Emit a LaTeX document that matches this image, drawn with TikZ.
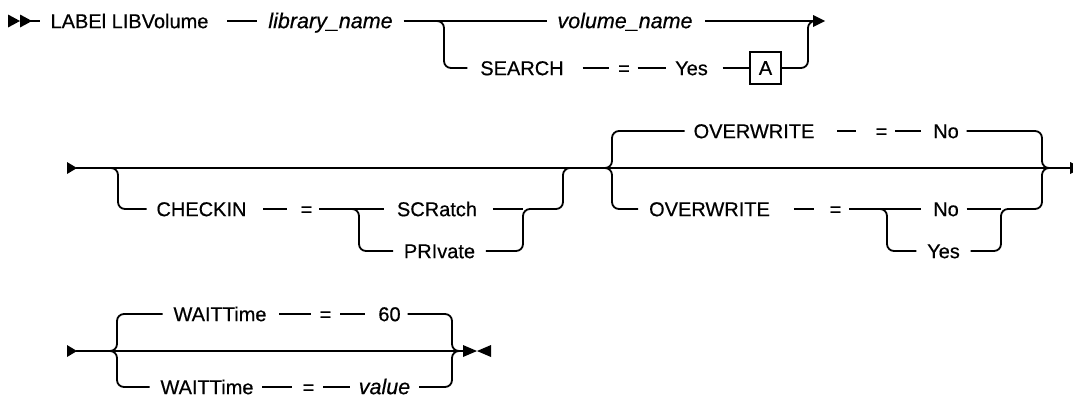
\documentclass[tikz,border=0pt]{standalone}
\usepackage{fontspec}
\setmainfont{Liberation Sans}[FakeBold=0.5]
\begin{document}
\begin{tikzpicture}[x=1pt,y=-1pt, line width=1.8pt,
  txt/.style={inner sep=0pt, text height=14.3pt, text depth=0pt, font=\fontsize{20}{24}\selectfont},
  var/.style={inner sep=0pt, text height=14.3pt, text depth=0pt, font=\fontsize{21.5}{25}\selectfont\itshape},
  rc/.style={rounded corners=7pt},
  boxed/.style={draw, line width=1.4pt, minimum width=31pt, minimum height=32pt, inner sep=0pt, font=\fontsize{20}{24}\selectfont}]
\clip (0,0) rectangle (1073,397);
\fill[white] (0,0) rectangle (1073,397);

% ---------- row 1 ----------
\fill (8,14.5) -- (20,21) -- (8,27.5) -- cycle;
\fill (20,14.5) -- (32,21) -- (20,27.5) -- cycle;
\coordinate (s1) at (20,21);
\node[txt] (lab) at (129.5,21) {LABEl LIBVolume};
\node[var] (lib) at (330.5,21) {library\_name};
\node[var] (vol) at (625,21) {volume\_name};
\node[txt] (search) at (522,68) {SEARCH};
\node[txt] (eqa) at (624,68) {=};
\node[txt] (yesa) at (691.5,68) {Yes};
\node[boxed] (boxa) at (765.5,68) {A};
\coordinate (j1) at (437,21);
\coordinate (m1) at (808,21);
\coordinate (e1) at (814,21);
\fill (813,15) -- (825,21) -- (813,27) -- cycle;

\draw (s1) -- ([xshift=-10]lab.west);
\draw ([xshift=18]lab.east) -- ([xshift=-10]lib.west);
\draw ([xshift=10]lib.east) -- ([xshift=-10]vol.west);
\draw ([xshift=12]vol.east) -- (e1);
\draw[rc] (j1) -- ++(7,0) |- ([xshift=-12]search.west);
\draw ([xshift=18]search.east) -- ([xshift=-8]eqa.west);
\draw ([xshift=7]eqa.east) -- ([xshift=-8]yesa.west);
\draw ([xshift=14]yesa.east) -- (boxa.west);
\draw[rc] (boxa.east) -| (m1) -- (e1);

% ---------- row 2 ----------
\fill (67,162) -- (77,168) -- (67,174) -- cycle;
\coordinate (s2) at (76,168);
\coordinate (j2) at (111,168);
\node[txt] (chk) at (201.5,209) {CHECKIN};
\node[txt] (eqb) at (306.5,209) {=};
\coordinate (j3) at (352,209);
\node[txt] (scr) at (437,209) {SCRatch};
\node[txt] (pri) at (439.5,251) {PRIvate};
\coordinate (m2) at (523,209);
\coordinate (m3) at (563,168);
\coordinate (jo) at (600,168);
\node[txt] (owa) at (754,131) {OVERWRITE};
\node[txt] (eqc) at (881.5,131) {=};
\node[txt] (noa) at (946,131) {No};
\node[txt] (owb) at (709.5,209) {OVERWRITE};
\node[txt] (eqd) at (835.5,209) {=};
\coordinate (j4) at (880,209);
\node[txt] (nob) at (946,209) {No};
\node[txt] (yesb) at (943.5,251) {Yes};
\coordinate (m4) at (1001,209);
\coordinate (m5) at (1042,168);
\coordinate (e2) at (1070,168);
\fill (1070,162) -- (1082,168) -- (1070,174) -- cycle;

\draw (s2) -- (e2);
\draw[rc] (j2) -- ++(7,0) |- ([xshift=-9]chk.west);
\draw ([xshift=16]chk.east) -- ([xshift=-13]eqb.west);
\draw ([xshift=6]eqb.east) -- ([xshift=-12]scr.west);
\draw[rc] (j3) -- ++(7,0) |- ([xshift=-10]pri.west);
\draw ([xshift=15]scr.east) -- (m2);
\draw[rc] ([xshift=10]pri.east) -| (m2) -| (m3) -- ++(8,0);

\draw[rc] (jo) -- ++(12,0) |- ([xshift=-8]owa.west);
\draw[rc] (jo) -- ++(12,0) |- ([xshift=-10]owb.west);
\draw ([xshift=22]owa.east) -- ([xshift=-19]eqc.west);
\draw ([xshift=7]eqc.east) -- ([xshift=-11]noa.west);
\draw[rc] ([xshift=7]noa.east) -| (m5) -- ++(10,0);
\draw ([xshift=23]owb.east) -- ([xshift=-15]eqd.west);
\draw ([xshift=7]eqd.east) -- (j4);
\draw (j4) -- ([xshift=-11]nob.west);
\draw[rc] (j4) -- ++(7,0) |- ([xshift=-10]yesb.west);
\draw ([xshift=7]nob.east) -- (m4);
\draw[rc] ([xshift=10]yesb.east) -| (m4) -| (m5) -- ++(10,0);

% ---------- row 3 ----------
\fill (67,345) -- (77,351) -- (67,357) -- cycle;
\coordinate (s3) at (76,351);
\coordinate (jw) at (105,351);
\node[txt] (wta) at (220,314) {WAITTime};
\node[txt] (eqe) at (325.5,314) {=};
\node[txt] (sixty) at (389.5,314) {60};
\node[txt] (wtb) at (207,387) {WAITTime};
\node[txt] (eqf) at (308.5,387) {=};
\node[var] (val) at (384.5,387) {value};
\coordinate (mw) at (452,351);
\coordinate (e3) at (463,351);
\fill (463,345) -- (477,351) -- (463,357) -- cycle;
\fill (491,345) -- (477,351) -- (491,357) -- cycle;

\draw (s3) -- (e3);
\draw[rc] (jw) -- ++(12,0) |- ([xshift=-10]wta.west);
\draw ([xshift=12]wta.east) -- ([xshift=-8]eqe.west);
\draw ([xshift=8]eqe.east) -- ([xshift=-12]sixty.west);
\draw[rc] ([xshift=6]sixty.east) -| (mw) -- (e3);
\draw[rc] (jw) -- ++(12,0) |- ([xshift=-10]wtb.west);
\draw ([xshift=8]wtb.east) -- ([xshift=-10]eqf.west);
\draw ([xshift=8]eqf.east) -- ([xshift=-8]val.west);
\draw[rc] ([xshift=8]val.east) -| (mw) -- (e3);
\end{tikzpicture}
\end{document}
